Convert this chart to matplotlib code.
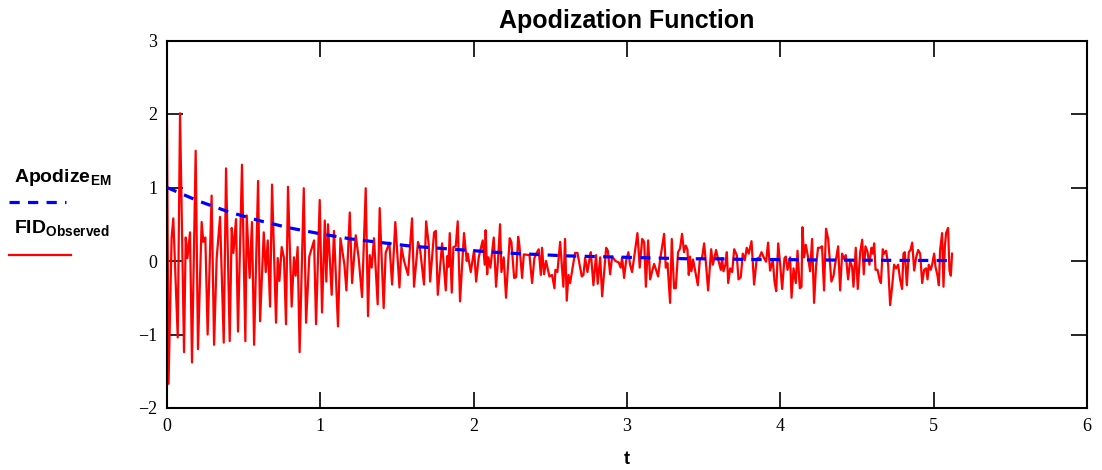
import matplotlib
matplotlib.use("Agg")
import matplotlib.pyplot as plt
from matplotlib.lines import Line2D

# apodization window (exponential multiplication)
t_em = [0.0, 0.2, 0.4, 0.6, 0.8, 1.0, 1.2, 1.4, 1.6, 1.8, 2.0, 2.2, 2.4, 2.6,
        2.8, 3.0, 3.2, 3.4, 3.6, 3.8, 4.0, 4.2, 4.4, 4.6, 4.8, 5.0, 5.11]
apodize_em = [1.00, 0.82, 0.67, 0.55, 0.45, 0.37, 0.30, 0.25, 0.20, 0.17, 0.14,
              0.11, 0.09, 0.07, 0.06, 0.05, 0.04, 0.03, 0.03, 0.02, 0.02, 0.015,
              0.012, 0.010, 0.008, 0.007, 0.006]

# observed FID, turning points
t_fid = [
    0.000, 0.010, 0.030, 0.041, 0.070, 0.085, 0.111, 0.122, 0.133, 0.150,
    0.163, 0.187, 0.202, 0.226, 0.237, 0.250, 0.265, 0.291, 0.307, 0.324,
    0.346, 0.370, 0.385, 0.409, 0.422, 0.433, 0.450, 0.463,
    0.489, 0.511, 0.520, 0.539, 0.554, 0.568, 0.594, 0.607, 0.631, 0.644,
    0.657, 0.672, 0.685, 0.711, 0.722, 0.733, 0.748, 0.763, 0.776, 0.789,
    0.813, 0.828, 0.839, 0.852, 0.865, 0.892, 0.907, 0.928, 0.959, 0.972,
    0.996, 1.011, 1.029, 1.039, 1.050, 1.074, 1.089, 1.115, 1.131, 1.157,
    1.170, 1.192, 1.207, 1.231, 1.250, 1.272, 1.296, 1.311, 1.322, 1.335,
    1.350, 1.374, 1.387, 1.413, 1.426, 1.450, 1.468, 1.489,
    1.516, 1.529, 1.546, 1.572, 1.598, 1.611, 1.637, 1.650, 1.676, 1.690,
    1.707, 1.716, 1.742, 1.753, 1.766, 1.794, 1.818, 1.829, 1.835, 1.844,
    1.857, 1.868, 1.883, 1.896, 1.911, 1.937, 1.955, 1.961, 1.981, 2.003,
    2.016, 2.033, 2.059, 2.072, 2.078, 2.088, 2.096, 2.109, 2.131, 2.146,
    2.159, 2.172, 2.181, 2.196, 2.211, 2.235, 2.246, 2.264, 2.277, 2.290,
    2.298, 2.316, 2.327, 2.364, 2.381, 2.396, 2.411, 2.424, 2.438, 2.446,
    2.459, 2.472, 2.494, 2.511,
    2.527, 2.533, 2.546, 2.564, 2.585, 2.596, 2.607, 2.618, 2.629, 2.644,
    2.661, 2.677, 2.705, 2.716, 2.727, 2.742, 2.755, 2.764, 2.781, 2.798,
    2.809, 2.825, 2.838, 2.864, 2.875, 2.890, 2.903, 2.925, 2.946, 2.959,
    2.968, 2.981, 2.994, 3.009, 3.020,
    3.033, 3.046, 3.068, 3.083, 3.099, 3.112, 3.123, 3.138, 3.151, 3.164,
    3.177, 3.203, 3.216, 3.242, 3.253, 3.264, 3.281, 3.292, 3.307, 3.318,
    3.333, 3.346, 3.359, 3.372, 3.383, 3.394, 3.403, 3.411, 3.420, 3.431,
    3.462, 3.475, 3.490, 3.503, 3.516, 3.529,
    3.549, 3.560, 3.581, 3.592, 3.612, 3.620, 3.629, 3.642, 3.651, 3.660,
    3.673, 3.686, 3.699, 3.716, 3.727, 3.742, 3.755, 3.768, 3.781, 3.794,
    3.812, 3.829, 3.846, 3.864, 3.877, 3.894, 3.907, 3.920, 3.933, 3.951,
    3.962, 3.973, 3.986, 3.999, 4.012, 4.027,
    4.036, 4.047, 4.064, 4.073, 4.086, 4.101, 4.112, 4.127, 4.138, 4.144,
    4.155, 4.166, 4.181, 4.194, 4.207, 4.220, 4.233, 4.246, 4.259, 4.272,
    4.285, 4.298, 4.312, 4.325, 4.333, 4.347, 4.357, 4.377, 4.390, 4.403,
    4.412, 4.427, 4.442, 4.455, 4.468, 4.477, 4.492, 4.505, 4.521, 4.534,
    4.544, 4.555, 4.568, 4.581, 4.594, 4.603, 4.612, 4.621, 4.634, 4.647,
    4.656, 4.668, 4.677, 4.690, 4.703, 4.716, 4.729, 4.742, 4.755, 4.768,
    4.781, 4.794, 4.803, 4.812, 4.825, 4.838, 4.849, 4.860, 4.873, 4.886,
    4.899, 4.912, 4.925, 4.938, 4.951, 4.960, 4.968, 4.981, 4.990, 5.003,
    5.012, 5.025, 5.034, 5.042, 5.055, 5.064, 5.073, 5.081, 5.094, 5.103,
    5.112, 5.120,
]
fid_observed = [
    1.90, -1.67, 0.31, 0.58, -1.04, 2.01, -1.24, 0.32, 0.04, 0.39,
    -1.38, 1.50, -1.20, 0.53, 0.26, 0.32, -1.00, 0.89, -1.14, 0.04,
    0.60, -1.11, 1.26, -1.09, 0.45, 0.11, 0.57, -0.96,
    1.31, -1.09, 0.62, -0.23, 0.53, -1.14, 1.09, -0.82, 0.39, -0.15,
    0.28, -0.62, 1.04, -0.84, 0.04, -0.27, 0.19, 0.04, -0.86, 1.01,
    -0.62, 0.05, -0.20, 0.19, -1.24, 0.99, -0.84, 0.06, 0.28, -0.86,
    0.83, -0.70, 0.55, -0.28, 0.50, -0.46, 0.41, -0.89, 0.31, -0.05,
    -0.40, 0.66, -0.30, 0.35, 0.04, -0.49, 0.99, -0.75, 0.08, -0.09,
    0.31, -0.59, 0.72, -0.64, 0.11, 0.25, -0.32, 0.53,
    -0.36, 0.19, 0.00, -0.19, 0.58, -0.35, 0.26, 0.17, -0.32, 0.54,
    0.22, -0.28, 0.39, 0.41, -0.46, 0.24, -0.40, 0.07, -0.08, 0.38,
    -0.43, 0.19, 0.20, 0.54, -0.55, 0.38, 0.00, 0.10, -0.15, 0.15,
    -0.28, 0.05, 0.28, -0.05, 0.42, -0.18, 0.05, -0.09, 0.32, -0.35,
    0.02, 0.50, -0.15, 0.05, -0.50, 0.31, 0.26, -0.23, -0.22, 0.33,
    0.22, -0.23, 0.09, 0.08, -0.30, 0.04, 0.11, 0.16, -0.19, 0.18,
    -0.18, 0.00, -0.21, -0.19,
    -0.37, -0.12, -0.15, 0.26, -0.35, 0.30, -0.54, -0.19, -0.30, -0.11,
    0.11, 0.11, -0.21, -0.19, 0.04, -0.15, 0.02, 0.12, -0.33, 0.08,
    -0.31, 0.05, -0.48, 0.18, 0.14, -0.18, 0.06, 0.00, -0.02, -0.09,
    0.05, -0.23, 0.00, 0.12, -0.05,
    -0.15, 0.04, 0.38, -0.09, 0.30, 0.26, -0.35, 0.28, -0.25, -0.14,
    -0.04, -0.21, 0.02, 0.37, -0.09, -0.03, -0.57, 0.30, -0.37, -0.37,
    0.12, 0.17, 0.37, 0.12, 0.21, 0.16, -0.19, 0.06, -0.14, 0.02,
    -0.33, 0.02, 0.05, 0.24, -0.06, -0.40,
    0.16, -0.05, 0.15, 0.04, -0.12, 0.04, -0.14, -0.05, 0.12, -0.30,
    -0.10, -0.15, 0.16, 0.08, -0.25, -0.22, 0.10, 0.01, 0.18, 0.10,
    0.27, -0.32, 0.03, 0.05, 0.12, 0.04, -0.01, 0.25, -0.13, 0.01,
    -0.28, -0.41, 0.24, -0.05, -0.38, 0.04,
    0.06, -0.12, 0.05, -0.50, -0.10, -0.30, 0.14, -0.37, -0.35, 0.46,
    0.05, 0.22, 0.05, -0.14, 0.30, -0.57, -0.07, 0.18, 0.18, 0.20,
    -0.40, 0.44, 0.30, -0.05, -0.28, -0.20, -0.05, 0.20, -0.40, 0.10,
    0.03, 0.08, -0.25, 0.00, -0.08, -0.35, 0.18, -0.38, 0.12, 0.29,
    -0.18, 0.20, 0.13, -0.05, 0.18, 0.10, 0.24, -0.12, -0.12, -0.25,
    -0.30, 0.16, 0.10, 0.14, -0.05, -0.60, -0.35, -0.05, -0.10, -0.05,
    -0.25, -0.38, 0.10, 0.12, -0.33, 0.12, 0.15, 0.25, -0.13, 0.05,
    0.15, 0.10, -0.30, -0.12, -0.10, -0.25, -0.05, -0.12, -0.05, 0.10,
    -0.08, -0.20, -0.33, 0.15, 0.38, -0.35, 0.20, 0.38, 0.45, -0.13,
    -0.20, 0.10,
]

x_ticks = [0, 1, 2, 3, 4, 5, 6]
y_ticks = [-2, -1, 0, 1, 2, 3]

plt.rcParams['mathtext.fontset'] = 'custom'
plt.rcParams['mathtext.bf'] = 'Liberation Sans:bold'
plt.rcParams['mathtext.rm'] = 'Liberation Sans'

fig = plt.figure(figsize=(11.02, 4.70), dpi=100)
ax = fig.add_axes([167 / 1102, 1 - 408 / 470, 920 / 1102, 367.5 / 470])

ax.plot(t_em, apodize_em, color='blue', lw=2.3, linestyle=(0, (3.2, 2.6)),
        dash_capstyle='butt', zorder=3)
ax.plot(t_fid, fid_observed, color='red', lw=1.6, zorder=2)

ax.set_xlim(0, 6)
ax.set_ylim(-2, 3)
ax.set_xticks(x_ticks)
ax.set_yticks(y_ticks)
ax.tick_params(direction='in', length=11.5, width=1.2, top=True, right=True,
               labelsize=13, pad=7)
for lab in ax.get_xticklabels() + ax.get_yticklabels():
    lab.set_fontfamily('Liberation Serif')
for s in ax.spines.values():
    s.set_linewidth(1.5)

ax.set_title('Apodization Function', fontsize=18, fontweight='bold',
             family='Liberation Sans', pad=9)
ax.set_xlabel('t', fontsize=13, fontweight='bold', family='Liberation Sans',
              labelpad=12)

# Mathcad-style legend to the left of the plot
fig.text(14 / 1102, 1 - 182 / 470, r'$\mathbf{Apodize}_{\mathbf{EM}}$',
         fontsize=14, va='baseline', ha='left')
fig.add_artist(Line2D([9 / 1102, 66 / 1102], [1 - 202 / 470, 1 - 202 / 470],
                      color='blue', lw=2.3, linestyle=(0, (3.2, 2.6)),
                      dash_capstyle='butt'))
fig.text(14 / 1102, 1 - 234 / 470, r'$\mathbf{FID}_{\mathbf{Observed}}$',
         fontsize=14, va='baseline', ha='left')
fig.add_artist(Line2D([9 / 1102, 71 / 1102], [1 - 255 / 470, 1 - 255 / 470],
                      color='red', lw=1.6))

fig.savefig('out.png', dpi=100)
